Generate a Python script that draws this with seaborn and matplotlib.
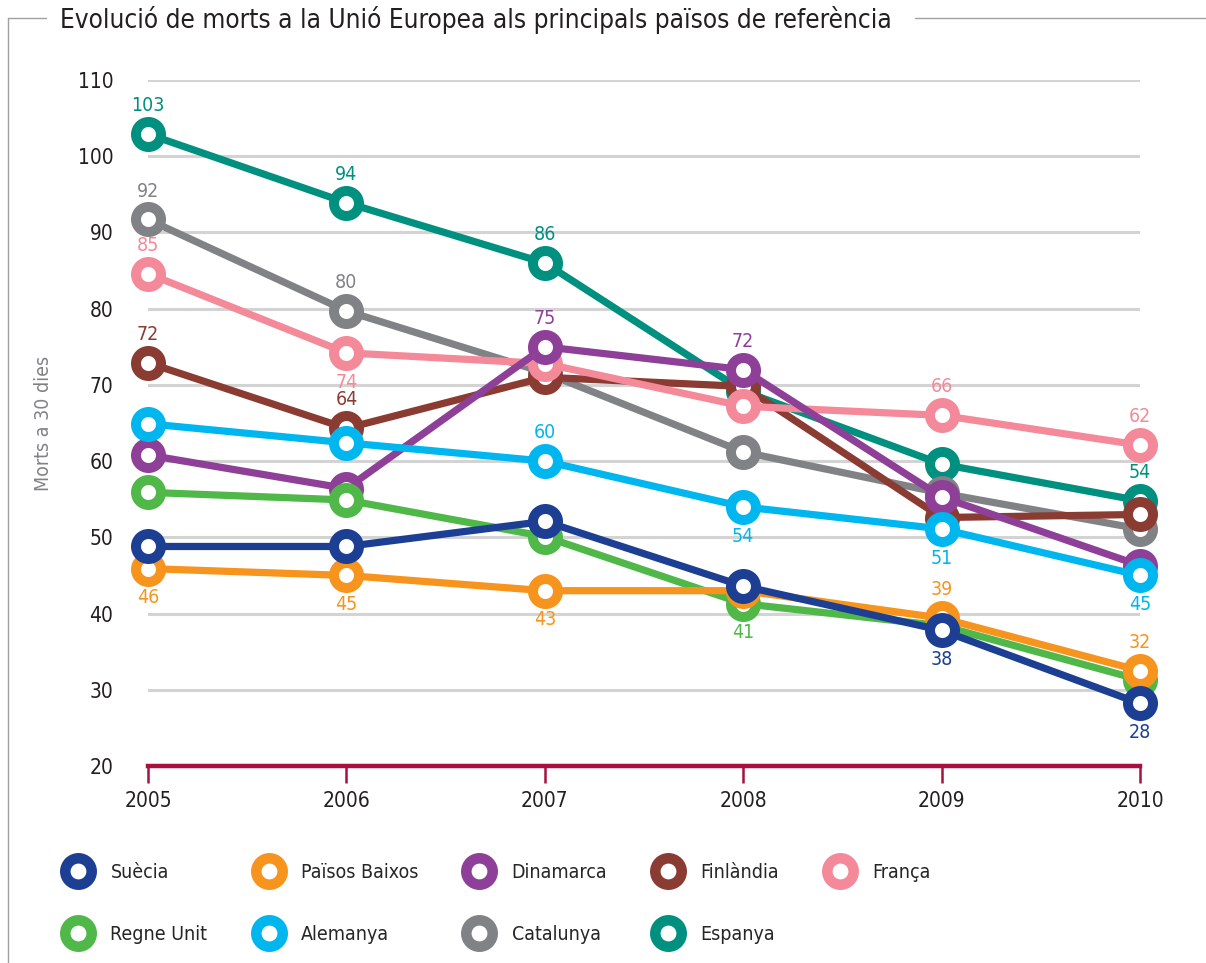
import matplotlib
matplotlib.use("Agg")
import matplotlib.pyplot as plt
import seaborn as sns
import pandas as pd
from matplotlib.lines import Line2D

sns.set_theme(style="white")
plt.rcParams['font.family'] = ['DejaVu Sans']
plt.rcParams['font.stretch'] = 'condensed'

years = [2005, 2006, 2007, 2008, 2009, 2010]

countries = ["Suècia", "Regne Unit", "Països Baixos", "Alemanya", "Dinamarca",
             "Catalunya", "Finlàndia", "Espanya", "França"]

suecia = [48.8, 48.8, 52.1, 43.6, 37.8, 28.2]
regne_unit = [55.9, 54.9, 50.1, 41.3, 38.4, 31.3]
paisos_baixos = [45.9, 45.0, 43.0, 43.0, 39.4, 32.5]
alemanya = [64.9, 62.4, 60.0, 54.0, 51.1, 45.0]
dinamarca = [60.8, 56.4, 75.0, 72.0, 55.3, 46.3]
catalunya = [91.7, 79.7, 71.6, 61.2, 55.8, 51.1]
finlandia = [72.9, 64.3, 71.0, 69.8, 52.6, 53.0]
espanya = [102.9, 93.9, 86.0, 69.2, 59.6, 54.8]
franca = [84.6, 74.2, 72.8, 67.2, 66.0, 62.1]

# label text per point ('' = no label) and side ('a' above, 'b' below)
suecia_lab = ["", "", "", "", "38", "28"]
regne_unit_lab = ["", "", "", "41", "", ""]
paisos_baixos_lab = ["46", "45", "43", "", "39", "32"]
alemanya_lab = ["", "", "60", "54", "51", "45"]
dinamarca_lab = ["", "", "75", "72", "", ""]
catalunya_lab = ["92", "80", "", "", "", ""]
finlandia_lab = ["72", "64", "", "", "", ""]
espanya_lab = ["103", "94", "86", "", "", "54"]
franca_lab = ["85", "74", "", "", "66", "62"]

suecia_side = ["", "", "", "", "b", "b"]
regne_unit_side = ["", "", "", "b", "", ""]
paisos_baixos_side = ["b", "b", "b", "", "a", "a"]
alemanya_side = ["", "", "a", "b", "b", "b"]
dinamarca_side = ["", "", "a", "a", "", ""]
catalunya_side = ["a", "a", "", "", "", ""]
finlandia_side = ["a", "a", "", "", "", ""]
espanya_side = ["a", "a", "a", "", "", "a"]
franca_side = ["a", "b", "", "", "a", "a"]

colors = {
    "Suècia": "#1D3F93",
    "Regne Unit": "#50B848",
    "Països Baixos": "#F7941D",
    "Alemanya": "#00B6EF",
    "Dinamarca": "#8E3F97",
    "Catalunya": "#808285",
    "Finlàndia": "#8A3B32",
    "Espanya": "#00907F",
    "França": "#F48A99",
}

series = {
    "Suècia": (suecia, suecia_lab, suecia_side),
    "Regne Unit": (regne_unit, regne_unit_lab, regne_unit_side),
    "Països Baixos": (paisos_baixos, paisos_baixos_lab, paisos_baixos_side),
    "Alemanya": (alemanya, alemanya_lab, alemanya_side),
    "Dinamarca": (dinamarca, dinamarca_lab, dinamarca_side),
    "Catalunya": (catalunya, catalunya_lab, catalunya_side),
    "Finlàndia": (finlandia, finlandia_lab, finlandia_side),
    "Espanya": (espanya, espanya_lab, espanya_side),
    "França": (franca, franca_lab, franca_side),
}

draw_order = ["Espanya", "Catalunya", "Finlàndia", "França", "Dinamarca",
              "Alemanya", "Regne Unit", "Països Baixos", "Suècia"]

W, H = 1206, 963
fig = plt.figure(figsize=(W / 100, H / 100), dpi=100)
ax = fig.add_axes([148 / W, 1 - 766 / H, (1140 - 148) / W, (766 - 80) / H])

TXT = "#231F20"
AXC = "#A8103F"

for i, c in enumerate(draw_order):
    vals, labs, sides = series[c]
    df = pd.DataFrame({"year": years, "value": vals})
    sns.lineplot(data=df, x="year", y="value", ax=ax, color=colors[c],
                 linewidth=5.2, marker="o", markersize=18, markeredgewidth=7.2,
                 markerfacecolor="white", markeredgecolor=colors[c],
                 zorder=5 + i, clip_on=False, legend=False)
    for x, v, t, s in zip(years, vals, labs, sides):
        if t:
            off = 20.5 if s == "a" else -21
            ax.annotate(t, (x, v), xytext=(0, off), textcoords="offset points",
                        ha="center", va="center", fontsize=14,
                        color=colors[c], zorder=30)

ax.set_xlim(2005, 2010)
ax.set_ylim(20, 110)
ax.set_yticks(range(20, 111, 10))
ax.set_xticks(years)
ax.set_xticklabels([str(y) for y in years])
ax.set_xlabel("")
ax.set_ylabel("Morts a 30 dies", fontsize=14, color="#808285", labelpad=18)

for yv in range(30, 111, 10):
    ax.axhline(yv, color="#D3D3D3", lw=2.2, zorder=1, xmin=-0.003, xmax=1.0)

for sp in ["top", "right", "left"]:
    ax.spines[sp].set_visible(False)
ax.spines["bottom"].set_color(AXC)
ax.spines["bottom"].set_linewidth(3.2)
ax.spines["bottom"].set_zorder(2)

ax.tick_params(axis="x", direction="out", length=12, width=1.8, color=AXC,
               labelsize=15, labelcolor=TXT, pad=6, bottom=True)
ax.tick_params(axis="y", length=0, labelsize=15, labelcolor=TXT, pad=25)
for lab in ax.get_yticklabels():
    lab.set_horizontalalignment("right")
ax.set_facecolor("white")

# legend
handles = [Line2D([], [], linestyle="none", marker="o", markersize=19,
                  markeredgewidth=7.6, markerfacecolor="white",
                  markeredgecolor=colors[c]) for c in countries]
fig.legend(handles, countries, ncol=5, loc="upper left",
           bbox_to_anchor=(58 / W, 1 - 855 / H), frameon=False,
           fontsize=14, handletextpad=1.0, columnspacing=2.5,
           labelspacing=2.2, handlelength=1.3, borderaxespad=0)

# title and frame
fig.text(60 / W, 1 - 20 / H, "Evolució de morts a la Unió Europea als principals països de referència",
         fontsize=18.8, color=TXT, va="center", ha="left")
fc = "#A0A0A0"
fig.add_artist(Line2D([8 / W, 8 / W], [0, 1 - 18 / H], color=fc, lw=1.0, transform=fig.transFigure))
fig.add_artist(Line2D([8 / W, 46 / W], [1 - 18 / H, 1 - 18 / H], color=fc, lw=1.0, transform=fig.transFigure))
fig.add_artist(Line2D([915 / W, 1.0], [1 - 18 / H, 1 - 18 / H], color=fc, lw=1.0, transform=fig.transFigure))

fig.savefig("out.png", dpi=100, facecolor="white")
